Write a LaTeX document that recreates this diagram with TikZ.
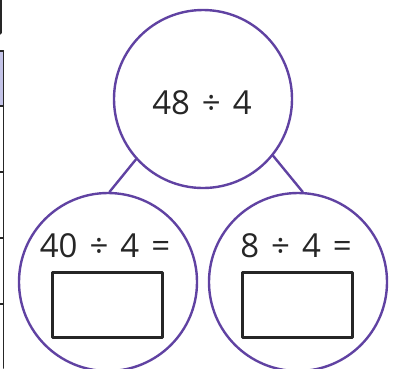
\documentclass[tikz,border=0pt]{standalone}
\usepackage{fontspec}
\setmainfont{Open Sans}
\usepackage{tikz}
\usetikzlibrary{positioning}
\definecolor{bondpurple}{RGB}{96,66,162}
\definecolor{bondink}{RGB}{38,38,38}
\definecolor{bondlilac}{RGB}{196,196,232}
\newcommand\sumfont{\fontsize{33}{38}\selectfont\spaceskip=12pt\relax}

\begin{document}
\begin{tikzpicture}[x=1pt,y=-1pt,line cap=round,line join=round,
 bubble/.style={circle,draw=bondpurple,line width=2.4pt,minimum size=178pt,inner sep=0pt},
 sum/.style={font=\sumfont,text=bondink,inner sep=0pt},
 answerbox/.style={draw=bondink,line width=2.8pt,minimum width=110pt,minimum height=65pt,inner sep=0pt}]
% Zerlegung der Division in zwei Teilaufgaben
\useasboundingbox (0,0) rectangle (395,368);
% Rest der Tabelle am linken Rand
\fill[bondlilac] (0,51) rectangle (3.5,106);
\draw[bondink,line width=3pt] (0.5,0)--(0.5,33);
\draw[bondink,line width=1.6pt] (3.5,51)--(3.5,368);
\foreach \y in {51,106,172,238,304}
 \draw[bondink,line width=1.2pt] (0,\y)--(3.5,\y);
% Kreise
\node[bubble] (whole) at (203,99) {};
\node[sum] at (202,103) {48 ÷ 4};
\node[bubble] (partA) at (108,282) {};
\node[bubble] (partB) at (298,282) {};
\draw[bondpurple,line width=2.4pt] (whole.222)--(partA.89);
\draw[bondpurple,line width=2.4pt] (whole.321)--(partB.87);
% Teilaufgaben
\node[sum] (sumA) at (105,246) {40 ÷ 4 =};
\node[sum] (sumB) at (296,246) {8 ÷ 4 =};
\node[answerbox] (boxA) at (107.5,305) {};
\node[answerbox] (boxB) at (297.5,305) {};
\end{tikzpicture}
\end{document}
